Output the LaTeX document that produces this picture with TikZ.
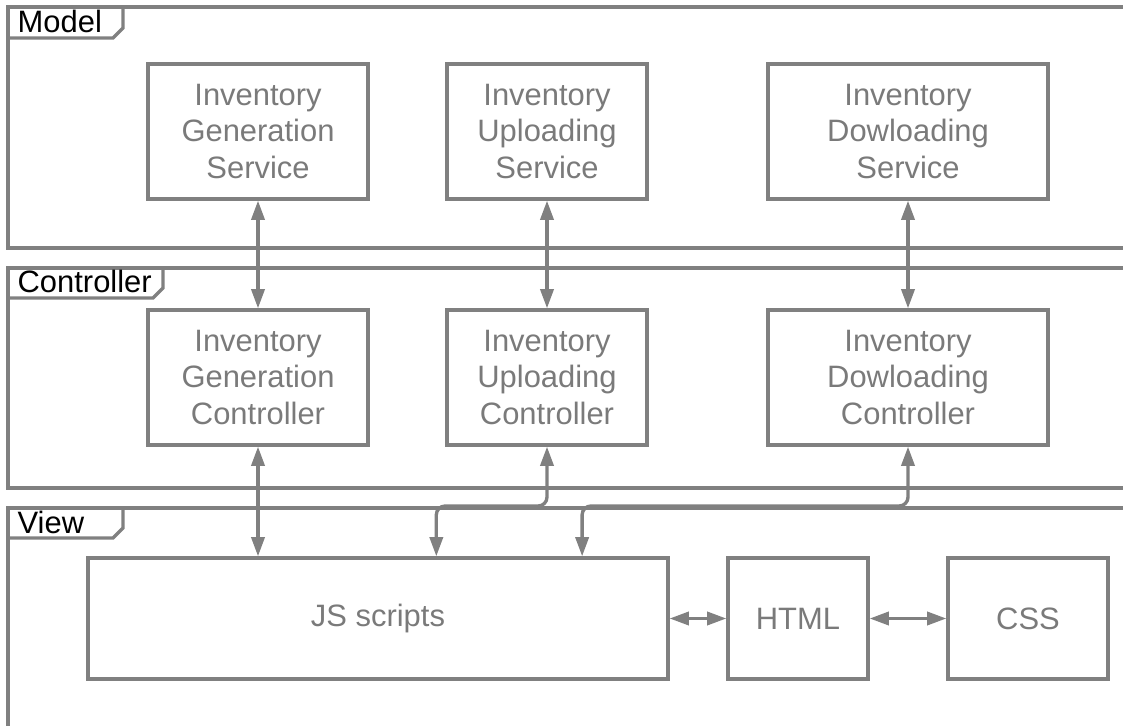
\documentclass[tikz,border=0pt]{standalone}
\usepackage{fontspec}
\setmainfont{Liberation Sans}
\usetikzlibrary{arrows.meta,calc}
\definecolor{wire}{HTML}{808080}
\definecolor{label}{HTML}{7A7A7A}

\begin{document}
\begin{tikzpicture}[x=0.02cm,y=-0.02cm,line width=1.9pt,
  font=\fontsize{17.6}{21}\selectfont,
  box/.style={draw=wire,text=label,align=center,minimum height=2.7cm,inner sep=0pt},
  link/.style={draw=wire,{Triangle[length=11pt,width=7.5pt]}-{Triangle[length=11pt,width=7.5pt]}},
  frame/.style={draw=wire},
  tag/.style={anchor=base west,inner sep=0pt,text=black}]
  \useasboundingbox (0,0) rectangle (1123,726);

  \draw[frame] (1123,7) -| (8,248) -- (1123,248);
  \draw[frame] (1123,268) -| (8,488) -- (1123,488);
  \draw[frame] (1123,508) -| (8,726);

  \node[tag] (mTag) at (16,33) {Model};
  \draw[frame] (8,38) -- (113,38) -- (123,28) -- (123,7);
  \node[tag] (cTag) at (16,293) {Controller};
  \draw[frame] (8,298) -- (153,298) -- (163,288) -- (163,268);
  \node[tag] (vTag) at (16,533) {View};
  \draw[frame] (8,538) -- (113,538) -- (123,528) -- (123,508);

  \node[box,minimum width=4.4cm] (genS) at (258,131.5)
    {Inventory\\Generation\\Service};
  \node[box,minimum width=4cm] (upS) at (547,131.5)
    {Inventory\\Uploading\\Service};
  \node[box,minimum width=5.6cm] (dlS) at (908,131.5)
    {Inventory\\Dowloading\\Service};

  \node[box,minimum width=4.4cm] (genC) at (258,377.5)
    {Inventory\\Generation\\Controller};
  \node[box,minimum width=4cm] (upC) at (547,377.5)
    {Inventory\\Uploading\\Controller};
  \node[box,minimum width=5.6cm] (dlC) at (908,377.5)
    {Inventory\\Dowloading\\Controller};

  \node[box,minimum width=11.6cm,minimum height=2.42cm] (js) at (378,618.5)
    {JS scripts};
  \node[box,minimum width=2.8cm,minimum height=2.42cm] (html) at (798,618.5)
    {HTML};
  \node[box,minimum width=3.2cm,minimum height=2.42cm] (css) at (1028,618.5)
    {CSS};

  \draw[link] (genS.south) -- (genC.north);
  \draw[link] (upS.south) -- (upC.north);
  \draw[link] (dlS.south) -- (dlC.north);

  \coordinate (jsU) at ($(js.north west)!.6!(js.north east)$);
  \coordinate (jsD) at ($(js.north west)!.85!(js.north east)$);
  \coordinate (bend) at (0,506);
  \draw[link] (genC.south) -- (genC.south |- js.north);
  \draw[link,rounded corners=5pt] (upC.south) -- (upC.south |- bend) -| (jsU);
  \draw[link,rounded corners=5pt] (dlC.south) -- (dlC.south |- bend) -| (jsD);

  \draw[link] (js) -- (html);
  \draw[link] (html) -- (css);
\end{tikzpicture}
\end{document}
